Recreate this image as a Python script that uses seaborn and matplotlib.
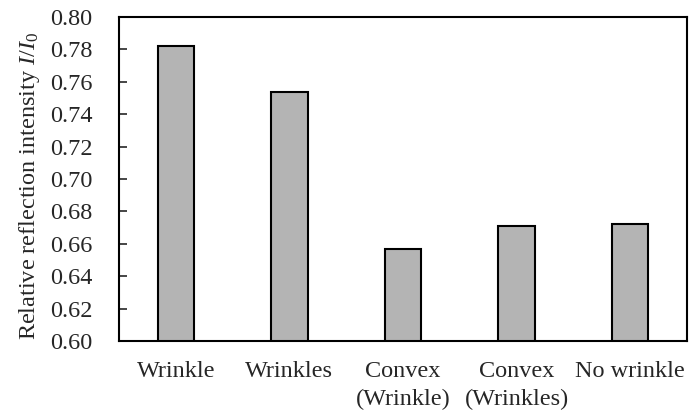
import matplotlib
matplotlib.use("Agg")
import matplotlib.pyplot as plt
import matplotlib.font_manager as fm
import seaborn as sns
import pandas as pd

categories = ["Wrinkle", "Wrinkles", "Convex\n(Wrinkle)", "Convex\n(Wrinkles)", "No wrinkle"]
intensity = [0.782, 0.754, 0.657, 0.671, 0.672]
yticks = [0.60, 0.62, 0.64, 0.66, 0.68, 0.70, 0.72, 0.74, 0.76, 0.78, 0.80]

# make sure the Times-metric serif family is registered
for path in fm.findSystemFonts():
    if "LiberationSerif" in path.replace("-", "").replace(" ", ""):
        try:
            fm.fontManager.addfont(path)
        except Exception:
            pass

sns.set_theme(style="white")
plt.rcParams["font.family"] = ["Liberation Serif", "Times New Roman", "DejaVu Serif"]
plt.rcParams["mathtext.fontset"] = "custom"
plt.rcParams["mathtext.rm"] = "Liberation Serif"
plt.rcParams["mathtext.it"] = "Liberation Serif:italic"

FS = 17.5

df = pd.DataFrame({"category": categories, "value": intensity})

fig = plt.figure(figsize=(6.89, 4.18), dpi=100)
ax = fig.add_axes([119 / 689, 1 - 341 / 418, (687 - 119) / 689, (341 - 17) / 418])

sns.barplot(data=df, x="category", y="value", ax=ax, color="#b4b4b4",
            width=0.32, edgecolor="black", linewidth=1.5, saturation=1)

ax.set_ylim(0.60, 0.80)
ax.set_yticks(yticks)
ax.set_yticklabels([f"{t:.2f}" for t in yticks], fontsize=FS)
ax.set_xlabel("")
ax.set_ylabel(r"Relative reflection intensity $I/I_0$", fontsize=FS)
ax.yaxis.set_label_coords(-0.135, 0.48)
ax.tick_params(axis="y", direction="in", length=6, width=1.2, left=True, pad=19)
ax.tick_params(axis="x", length=0, pad=14.5, labelsize=FS)
for lbl in ax.get_xticklabels():
    lbl.set_linespacing(1.4)
for s in ax.spines.values():
    s.set_visible(True)
    s.set_color("black")
    s.set_linewidth(1.5)

fig.savefig("out.png", dpi=100)
